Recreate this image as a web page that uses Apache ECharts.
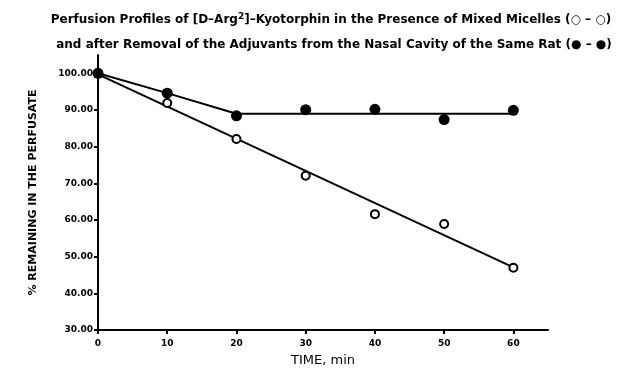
<!DOCTYPE html>
<html>
<head>
<meta charset="utf-8">
<script src="https://cdn.jsdelivr.net/npm/echarts@6/dist/echarts.min.js"></script>
<style>
html, body { margin: 0; padding: 0; background: #fff; }
#main { width: 617px; height: 375px; }
</style>
</head>
<body>
<div id="main"></div>
<script>
// sampling times (min)
var times = [0, 10, 20, 30, 40, 50, 60];
// open circles: in the presence of mixed micelles
var micelleVals = [100, 91.9, 82.1, 72.1, 61.6, 58.9, 47.0];
// filled circles: after removal of adjuvants
var removalVals = [100, 94.6, 88.4, 90.1, 90.2, 87.4, 89.9];
// drawn fit lines
var micelleFitX = [0, 60];
var micelleFitY = [99.7, 47.1];
var removalFitX = [0, 10, 20, 60];
var removalFitY = [100, 94.6, 89.0, 89.0];
// tick labels
var xTicks = [0, 10, 20, 30, 40, 50, 60];
var yTicks = [30, 40, 50, 60, 70, 80, 90, 100];

function pairs(xs, ys) {
    return xs.map(function (x, i) { return [x, ys[i]]; });
}

var myChart = echarts.init(document.getElementById('main'));
var font = 'DejaVu Sans, Verdana, sans-serif';

option = {
    backgroundColor: '#fff',
    animation: false,
    title: [{
        text: 'Perfusion Profiles of [D\u2013Arg{sup|2}]\u2013Kyotorphin in the Presence of Mixed Micelles (\u25CB \u2013 \u25CB)',
        left: 326, top: 7, textAlign: 'center',
        textStyle: {
            fontFamily: font, fontSize: 12, fontWeight: 'bold', color: '#000',
            rich: { sup: { fontSize: 9, fontWeight: 'bold', verticalAlign: 'top', padding: [0, 0, 6, 0], fontFamily: font } }
        }
    }, {
        text: 'and after Removal of the Adjuvants from the Nasal Cavity of the Same Rat (\u25CF \u2013 \u25CF)',
        left: 329, top: 34, textAlign: 'center',
        textStyle: { fontFamily: font, fontSize: 12, fontWeight: 'bold', color: '#000' }
    }],
    grid: { left: 98, right: 69, top: 55, bottom: 45 },
    xAxis: {
        type: 'value', min: 0, max: 65,
        name: 'TIME, min', nameLocation: 'middle', nameGap: 24,
        nameTextStyle: { fontFamily: font, fontSize: 13, color: '#000' },
        axisLine: { lineStyle: { color: '#000', width: 2 } },
        axisTick: { customValues: xTicks, length: 4, lineStyle: { color: '#000', width: 2 } },
        axisLabel: { customValues: xTicks, margin: 9, fontFamily: font, fontSize: 9, fontWeight: 'bold', color: '#000' },
        splitLine: { show: false }
    },
    yAxis: {
        type: 'value', min: 30, max: 105,
        name: '% REMAINING IN THE PERFUSATE', nameLocation: 'middle', nameGap: 59,
        nameRotate: 90,
        nameTextStyle: { fontFamily: font, fontSize: 11, fontWeight: 'bold', color: '#000' },
        axisLine: { lineStyle: { color: '#000', width: 2 } },
        axisTick: { customValues: yTicks, length: 4, lineStyle: { color: '#000', width: 2 } },
        axisLabel: {
            customValues: yTicks, margin: 5, fontFamily: font, fontSize: 9, fontWeight: 'bold', color: '#000',
            formatter: function (v) { return v.toFixed(2); }
        },
        splitLine: { show: false }
    },
    series: [{
        type: 'line', data: pairs(micelleFitX, micelleFitY), symbol: 'none',
        lineStyle: { color: '#000', width: 2 }, z: 2
    }, {
        type: 'line', data: pairs(removalFitX, removalFitY), symbol: 'none',
        lineStyle: { color: '#000', width: 2 }, z: 2
    }, {
        type: 'scatter', data: pairs(times, micelleVals), symbol: 'circle', symbolSize: 8,
        itemStyle: { color: '#fff', borderColor: '#000', borderWidth: 2, opacity: 1 }, z: 3
    }, {
        type: 'scatter', data: pairs(times, removalVals), symbol: 'circle', symbolSize: 11,
        itemStyle: { color: '#000', opacity: 1 }, z: 4
    }]
};
myChart.setOption(option);
</script>
</body>
</html>
